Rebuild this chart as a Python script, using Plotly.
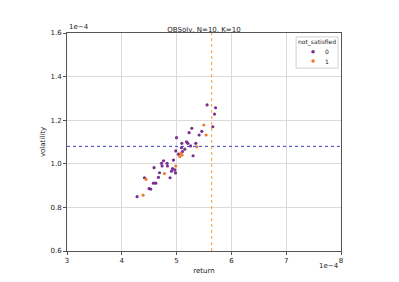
import plotly.graph_objects as go

# values in units of 1e-4
ret_0 = [5.557, 5.711, 5.692, 5.661, 5.278, 5.460, 5.228, 5.411, 4.998, 5.181, 5.205, 5.351, 5.095,
         5.254, 5.089, 5.150, 4.985, 5.108, 5.035, 5.301, 4.943, 4.761, 4.724, 4.826, 4.834, 4.589,
         4.925, 4.967, 4.907, 4.688, 4.980, 4.669, 4.881, 4.414, 4.578, 4.620, 4.498, 4.529, 4.279, 4.735]
vol_0 = [1.270, 1.257, 1.228, 1.170, 1.163, 1.149, 1.143, 1.132, 1.120, 1.101, 1.094, 1.094, 1.094,
         1.082, 1.074, 1.067, 1.059, 1.056, 1.044, 1.037, 1.017, 1.014, 1.002, 1.002, 0.990, 0.982,
         0.978, 0.972, 0.966, 0.959, 0.958, 0.938, 0.936, 0.936, 0.911, 0.911, 0.886, 0.884, 0.849, 0.990]
ret_1 = [5.497, 5.539, 5.369, 5.077, 5.100, 5.058, 4.985, 4.779, 4.443, 4.388]
vol_1 = [1.178, 1.132, 1.078, 1.048, 1.040, 1.033, 0.990, 0.955, 0.929, 0.856]
groups = ["0", "1"]
colors = ["#7a2e8e", "#ef7d30"]

ref_vol = 1.08
ref_ret = 5.64

x_ticks = [3, 4, 5, 6, 7, 8]
y_ticks = [0.6, 0.8, 1.0, 1.2, 1.4, 1.6]
y_tick_text = ["0.6", "0.8", "1.0", "1.2", "1.4", "1.6"]

font = "DejaVu Sans"
txt = "#222"
fig = go.Figure()
for name, xs, ys, c in zip(groups, [ret_0, ret_1], [vol_0, vol_1], colors):
    fig.add_trace(go.Scatter(x=xs, y=ys, mode="markers", name=name, showlegend=False,
                             marker=dict(color=c, size=3.2, line=dict(width=0))))

fig.add_shape(type="line", xref="paper", x0=0, x1=1, yref="y", y0=ref_vol, y1=ref_vol,
              line=dict(color="#4040c8", width=1, dash="dot"))
fig.add_shape(type="line", yref="paper", y0=0, y1=1, xref="x", x0=ref_ret, x1=ref_ret,
              line=dict(color="#f3a22e", width=1, dash="dot"))

axis_common = dict(showline=True, linecolor="#555", linewidth=1, mirror=True,
                   showgrid=True, gridcolor="#dadada", gridwidth=1, zeroline=False,
                   ticks="outside", ticklen=3, tickcolor="#555",
                   tickfont=dict(size=7, color=txt, family=font))
fig.update_xaxes(range=[3, 8], tickvals=x_ticks, **axis_common,
                 title=dict(text="return", font=dict(size=7, color=txt, family=font), standoff=3))
fig.update_yaxes(range=[0.6, 1.6], tickvals=y_ticks, ticktext=y_tick_text, **axis_common,
                 title=dict(text="volatility", font=dict(size=7, color=txt, family=font), standoff=4))

fig.add_annotation(text="1e\u22124", xref="paper", yref="paper", x=0, y=1, xanchor="left", yanchor="bottom",
                   showarrow=False, font=dict(size=7, color=txt, family=font))
fig.add_annotation(text="1e\u22124", xref="paper", yref="paper", x=1, y=0, xanchor="right", yanchor="top",
                   yshift=-9, showarrow=False, font=dict(size=7, color=txt, family=font))

# legend drawn manually (matplotlib-like compact box)
fig.add_shape(type="rect", xref="paper", yref="paper", x0=0.836, x1=0.989, y0=0.839, y1=0.982,
              line=dict(color="#d0d0d0", width=1), fillcolor="rgba(255,255,255,0.85)", layer="above")
fig.add_annotation(text="not_satisfied", xref="paper", yref="paper", x=0.912, y=0.959,
                   xanchor="center", yanchor="middle",
                   showarrow=False, font=dict(size=6, color=txt, family=font))
for i, (name, c) in enumerate(zip(groups, colors)):
    yy = 0.914 - i * 0.043
    fig.add_shape(type="circle", xref="paper", yref="paper", xsizemode="pixel", ysizemode="pixel",
                  xanchor=0.898, yanchor=yy, x0=-1.8, x1=1.8, y0=-1.8, y1=1.8,
                  fillcolor=c, line=dict(width=0), layer="above")
    fig.add_annotation(text=name, xref="paper", yref="paper", x=0.935, y=yy,
                       xanchor="left", yanchor="middle",
                       showarrow=False, font=dict(size=6, color=txt, family=font))

fig.update_layout(
    width=399, height=282,
    margin=dict(l=59, r=66, t=25, b=39),
    paper_bgcolor="white", plot_bgcolor="white",
    title=dict(text="QBSolv, N=10, K=10", x=0.5, xref="paper", y=1, yref="paper",
               yanchor="bottom", pad=dict(b=1), font=dict(size=7, color=txt, family=font)),
    showlegend=False,
)

fig.write_html("out.html")
